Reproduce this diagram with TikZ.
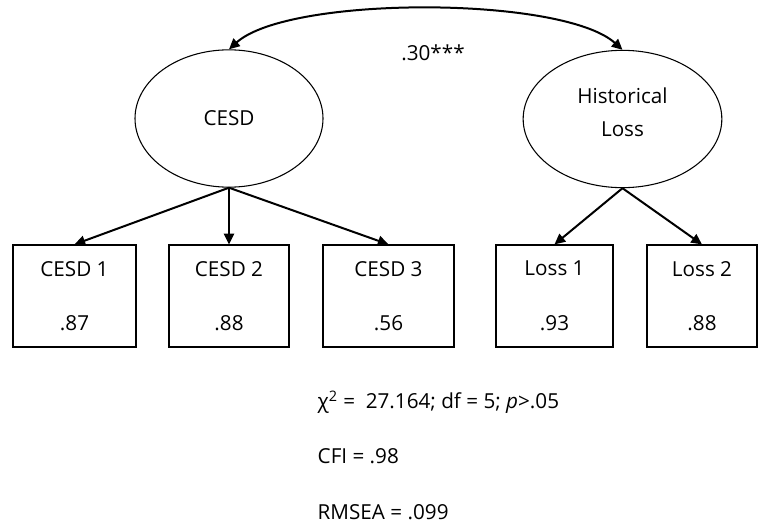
\documentclass[tikz,border=0pt]{standalone}
\usepackage{fontspec}
\setmainfont{Open Sans}
\usetikzlibrary{shapes.geometric,arrows.meta}
\tikzset{
  latent/.style={ellipse,draw,line width=0.8pt,minimum width=141pt,minimum height=103pt,inner sep=0pt,align=center,font=\fontsize{15.5}{24.75}\selectfont},
  indic/.style={rectangle,draw,line width=0.9pt,minimum height=76.5pt,inner sep=0pt,align=center,font=\fontsize{15.5}{41}\selectfont},
  load/.style={line width=1.5pt,-{Triangle[length=8pt,width=7.5pt]}},
  corr/.style={line width=1.5pt,{Triangle[length=8pt,width=7.5pt]}-{Triangle[length=8pt,width=7.5pt]}},
  txt/.style={font=\fontsize{15.5}{17}\selectfont}
}
\begin{document}
\begin{tikzpicture}[x=0.75pt,y=-0.75pt]
	\useasboundingbox (0,0) rectangle (758,525);
	\node[latent] (CESD) at (229,118.5) {CESD};
	\node[latent, minimum width=149pt, text depth=11pt] (HL) at (622.5,119) {Historical\\Loss};

	\node[indic, minimum width=92.25pt] (c1) at (74.5,296) {CESD 1\\.87};
	\node[indic, minimum width=90pt] (c2) at (229,296) {CESD 2\\.88};
	\node[indic, minimum width=98.25pt] (c3) at (388.5,296) {CESD 3\\.56};
	\node[indic, minimum width=87.75pt] (l1) at (554.5,296) {Loss 1\\.93};
	\node[indic, minimum width=82.5pt] (l2) at (702,296) {Loss 2\\.88};

	\node[txt] (r) at (433,53) {.30***};
	\node[txt, anchor=west] (chi) at (313,402) {χ\textsuperscript{2} =\ \ 27.164; df = 5; \textit{p}>.05};
	\node[txt, anchor=west] (cfi) at (313,456) {CFI = .98};
	\node[txt, anchor=west] (rmsea) at (313,512) {RMSEA = .099};

	\draw[corr] (CESD.north) .. controls +(60,-54) and +(-60,-54) .. (HL.north);
	\draw[load] (CESD.south) -- (c1.north);
	\draw[load] (CESD.south) -- (c2.north);
	\draw[load] (CESD.south) -- (c3.north);
	\draw[load] (HL.south) -- (l1.north);
	\draw[load] (HL.south) -- (l2.north);
\end{tikzpicture}
\end{document}
